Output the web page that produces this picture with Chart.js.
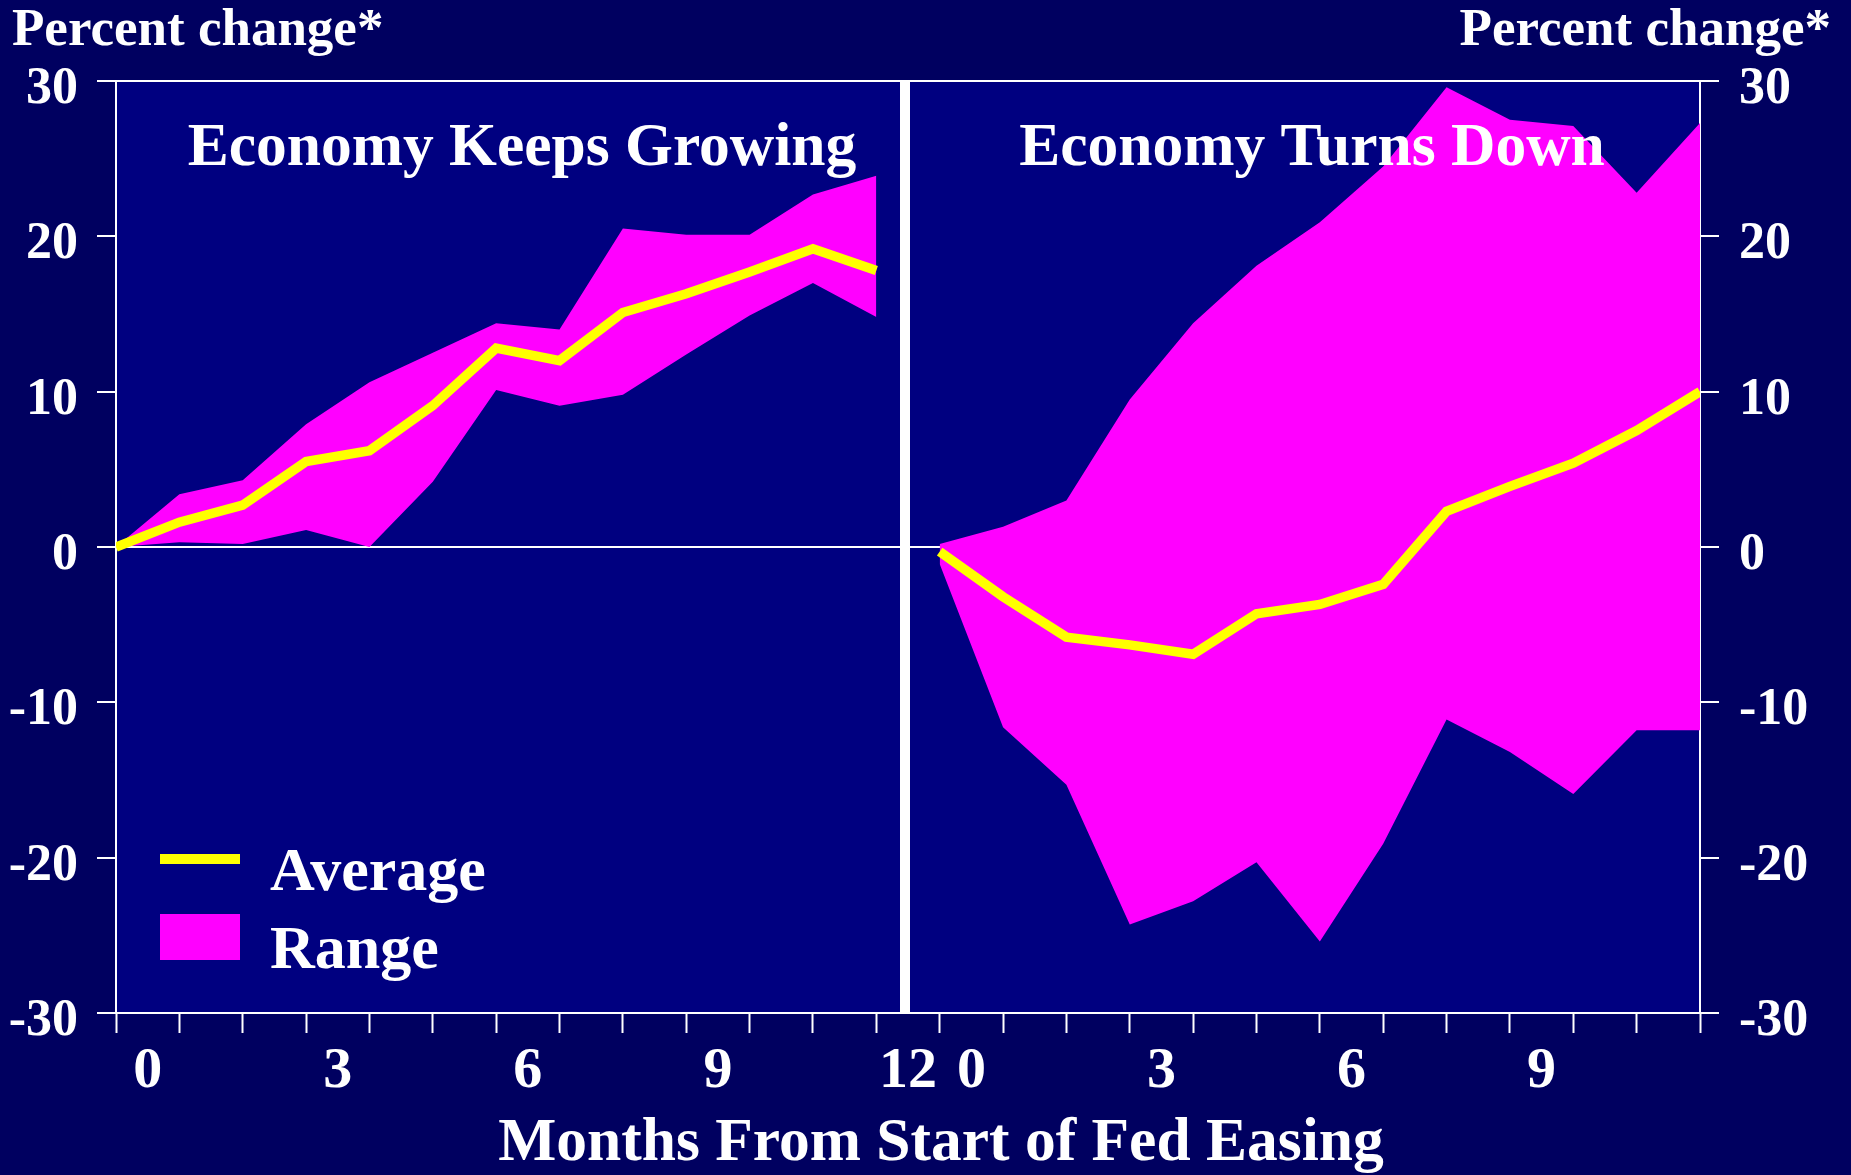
<!DOCTYPE html>
<html>
<head>
<meta charset="utf-8">
<script src="https://cdn.jsdelivr.net/npm/chart.js@4.4.1/dist/chart.umd.min.js"></script>
<style>
    html, body { margin: 0; padding: 0; background: #000060; }
</style>
</head>
<body>
<canvas id="chart" width="1851" height="1175"></canvas>
<script>
// months after the start of easing, one panel each
const leftMonths = [0, 1, 2, 3, 4, 5, 6, 7, 8, 9, 10, 11, 12];
const rightMonths = [0, 1, 2, 3, 4, 5, 6, 7, 8, 9, 10, 11, 12];

// Economy keeps growing
const growAvg = [0, 1.6, 2.7, 5.5, 6.2, 9.1, 12.8, 12.0, 15.1, 16.3, 17.7, 19.2, 17.8];
const growHigh = [0, 3.4, 4.3, 7.9, 10.6, 12.5, 14.4, 14.0, 20.5, 20.1, 20.1, 22.7, 23.9];
const growLow = [0, 0.3, 0.2, 1.1, 0, 4.2, 10.1, 9.1, 9.8, 12.4, 14.9, 17.0, 14.8];

// Economy turns down
const downAvg = [-0.3, -3.2, -5.8, -6.3, -6.9, -4.3, -3.7, -2.4, 2.3, 3.9, 5.4, 7.5, 10.0];
const downHigh = [0.2, 1.3, 3.0, 9.5, 14.4, 18.1, 20.9, 24.5, 29.6, 27.5, 27.1, 22.8, 27.3];
const downLow = [-1.1, -11.6, -15.3, -24.3, -22.8, -20.3, -25.4, -19.1, -11.1, -13.2, -15.9, -11.8, -11.8];

// tick labels along the shared month axis (left panel, then right panel)
const xTickLabels = ['0', '', '', '3', '', '', '6', '', '', '9', '', '', '12',
                     '0', '', '', '3', '', '', '6', '', '', '9', '', '', ''];
const yTicks = [-30, -20, -10, 0, 10, 20, 30];

const panelTitles = ['Economy Keeps Growing', 'Economy Turns Down'];
const yTitle = 'Percent change*';
const xTitle = 'Months From Start of Fed Easing';

const FONT = '"Liberation Serif", "Times New Roman", serif';
const YELLOW = '#ffff00';
const MAGENTA = '#ff00ff';

// right panel continues on the same axis right after the left one
const rightStart = leftMonths.length;
const pts = (months, vals, off) => months.map((m, i) => ({x: m + off, y: vals[i]}));

const rangeEdge = (label, data, fill) => ({
    label, data, fill,
    backgroundColor: MAGENTA,
    borderColor: 'transparent',
    borderWidth: 0,
    pointRadius: 0,
    order: 1
});
const avgLine = (label, data) => ({
    label, data,
    fill: false,
    borderColor: YELLOW,
    borderWidth: 9.5,
    pointRadius: 0,
    order: 0
});

const backdropPlugin = {
    id: 'backdrop',
    beforeDraw: chart => {
        const {ctx, chartArea: a} = chart;
        ctx.save();
        ctx.fillStyle = '#000060';
        ctx.fillRect(0, 0, chart.width, chart.height);
        ctx.fillStyle = '#000080';
        ctx.fillRect(a.left, a.top, a.right - a.left, a.bottom - a.top);
        ctx.restore();
    },
    afterDraw: chart => {
        const {ctx, chartArea: a, scales} = chart;
        const x = scales.x;
        ctx.save();

        // divider between the two panels
        const mid = (x.getPixelForValue(leftMonths[leftMonths.length - 1]) + x.getPixelForValue(rightStart)) / 2 - 3;
        ctx.fillStyle = '#ffffff';
        ctx.fillRect(mid - 5, a.top, 10, a.bottom - a.top);

        ctx.fillStyle = '#ffffff';
        ctx.textBaseline = 'alphabetic';

        ctx.font = `bold 53px ${FONT}`;
        ctx.textAlign = 'left';
        ctx.fillText(yTitle, 12, 45);
        ctx.textAlign = 'right';
        ctx.fillText(yTitle, chart.width - 20, 45);

        ctx.font = `bold 61.5px ${FONT}`;
        ctx.textAlign = 'center';
        ctx.fillText(panelTitles[0], 522, 165);
        ctx.fillText(panelTitles[1], 1312, 165);
        ctx.fillText(xTitle, 941, 1160);

        // legend
        const ds = chart.data.datasets;
        ctx.fillStyle = ds[4].borderColor;
        ctx.fillRect(160, 854, 80, 10);
        ctx.fillStyle = ds[1].backgroundColor;
        ctx.fillRect(160, 914, 80, 46);
        ctx.fillStyle = '#ffffff';
        ctx.font = `bold 62px ${FONT}`;
        ctx.textAlign = 'left';
        ctx.fillText('Average', 270, 890);
        ctx.fillText('Range', 270, 968);

        ctx.restore();
    }
};

const yAxis = (position, width) => ({
    type: 'linear',
    position,
    min: -30,
    max: 30,
    z: 1,
    afterFit: s => { s.width = width; },
    afterBuildTicks: s => { s.ticks = yTicks.map(v => ({value: v})); },
    ticks: {
        color: '#ffffff',
        font: {family: FONT, size: 52, weight: 'bold'},
        padding: position === 'left' ? 19 : 20,
        labelOffset: 8.5
    },
    grid: {
        drawOnChartArea: position === 'left',
        color: c => (c.tick && [0, 30, -30].includes(c.tick.value)) ? '#ffffff' : 'transparent',
        lineWidth: 2,
        tickColor: '#ffffff',
        tickWidth: 2,
        tickLength: 19
    },
    border: {color: '#ffffff', width: 2}
});

new Chart(document.getElementById('chart'), {
    type: 'line',
    data: {
        datasets: [
            rangeEdge('grow low', pts(leftMonths, growLow, 0), false),
            rangeEdge('Range', pts(leftMonths, growHigh, 0), '-1'),
            rangeEdge('down low', pts(rightMonths, downLow, rightStart), false),
            rangeEdge('down high', pts(rightMonths, downHigh, rightStart), '-1'),
            avgLine('Average', pts(leftMonths, growAvg, 0)),
            avgLine('down avg', pts(rightMonths, downAvg, rightStart))
        ]
    },
    options: {
        responsive: false,
        animation: false,
        layout: {padding: {top: 81, left: 0, right: 0, bottom: 0}},
        plugins: {
            legend: {display: false},
            tooltip: {enabled: false}
        },
        scales: {
            x: {
                type: 'linear',
                min: 0,
                max: xTickLabels.length - 1,
                z: 1,
                afterFit: s => { s.height = 162; },
                ticks: {
                    stepSize: 1,
                    autoSkip: false,
                    maxRotation: 0,
                    minRotation: 0,
                    color: '#ffffff',
                    font: {family: FONT, size: 58, weight: 'bold'},
                    padding: 4,
                    labelOffset: 31.7,
                    callback: v => xTickLabels[v] ?? ''
                },
                grid: {
                    drawOnChartArea: false,
                    tickColor: '#ffffff',
                    tickWidth: 2,
                    tickLength: 20
                },
                border: {color: '#ffffff', width: 2}
            },
            y: yAxis('left', 116),
            y2: yAxis('right', 151)
        }
    },
    plugins: [backdropPlugin]
});
</script>
</body>
</html>
